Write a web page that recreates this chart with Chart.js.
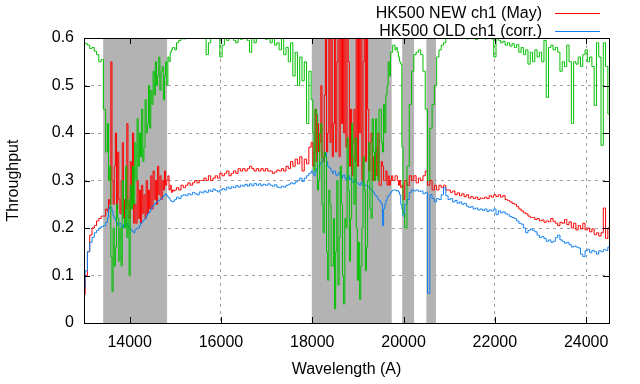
<!DOCTYPE html>
<html>
<head>
<meta charset="utf-8">
<script src="https://cdn.jsdelivr.net/npm/chart.js@4.4.0/dist/chart.umd.min.js"></script>
<style>html,body{margin:0;padding:0;background:#fff}canvas{display:block}</style>
</head>
<body>
<canvas id="chart" width="640" height="384"></canvas>
<script>
// wavelength grid (A), one row per 500 A; finer sampling inside the absorption windows
const wavelength=[
13000,13050,13100,13150,13200,13250,13300,13350,13400,13450,
13500,13525,13550,13575,13600,13625,13650,13675,13700,13725,13750,13775,13800,13825,13850,13875,13900,13925,13950,13975,
14000,14025,14050,14075,14100,14125,14150,14175,14200,14225,14250,14275,14300,14325,14350,14375,14400,14425,14450,14475,
14500,14525,14550,14575,14600,14625,14650,14675,14700,14725,14750,14775,14800,14825,14850,14875,14900,14925,14950,14975,
15000,15050,15100,15150,15200,15250,15300,15350,15400,15450,
15500,15550,15600,15650,15700,15750,15800,15850,15900,15950,
16000,16050,16100,16150,16200,16250,16300,16350,16400,16450,
16500,16550,16600,16650,16700,16750,16800,16850,16900,16950,
17000,17050,17100,17150,17200,17250,17300,17350,17400,17450,
17500,17550,17600,17650,17700,17750,17800,17850,17900,17950,
18000,18025,18050,18075,18100,18125,18150,18175,18200,18225,18250,18275,18300,18325,18350,18375,18400,18425,18450,18475,
18500,18525,18550,18575,18600,18625,18650,18675,18700,18725,18750,18775,18800,18825,18850,18875,18900,18925,18950,18975,
19000,19025,19050,19075,19100,19125,19150,19175,19200,19225,19250,19275,19300,19325,19350,19375,19400,19425,19450,19475,
19500,19525,19550,19575,19600,19625,19650,19675,19700,19725,19750,19775,19800,19825,19850,19875,19900,19925,19950,19975,
20000,20050,20100,20150,20200,20250,20300,20350,20400,20450,
20500,20550,20600,20650,20700,20750,20800,20850,20900,20950,
21000,21050,21100,21150,21200,21250,21300,21350,21400,21450,
21500,21550,21600,21650,21700,21750,21800,21850,21900,21950,
22000,22050,22100,22150,22200,22250,22300,22350,22400,22450,
22500,22550,22600,22650,22700,22750,22800,22850,22900,22950,
23000,23050,23100,23150,23200,23250,23300,23350,23400,23450,
23500,23550,23600,23650,23700,23750,23800,23850,23900,23950,
24000,24050,24100,24150,24200,24250,24300,24350,24400,24450,
24500];

// HK500 NEW ch1 (May)
const thrNew=[
0.06,0.10,0.15,0.185,0.20,0.205,0.215,0.22,0.225,0.225,
0.24,0.235,0.26,0.25,0.55,0.30,0.25,0.33,0.40,0.24,0.36,0.26,0.23,0.30,0.38,0.22,0.26,0.24,0.42,0.25,
0.22,0.34,0.26,0.40,0.21,0.25,0.21,0.30,0.22,0.28,0.21,0.29,0.23,0.27,0.22,0.30,0.23,0.28,0.24,0.31,
0.24,0.32,0.26,0.30,0.25,0.33,0.27,0.31,0.26,0.30,0.28,0.32,0.29,0.30,0.31,0.28,0.29,0.275,0.28,0.278,
0.28,0.285,0.28,0.29,0.285,0.29,0.295,0.29,0.295,0.30,
0.295,0.30,0.30,0.305,0.30,0.31,0.30,0.305,0.31,0.305,
0.315,0.31,0.315,0.32,0.31,0.315,0.32,0.315,0.325,0.32,
0.325,0.32,0.325,0.33,0.325,0.32,0.325,0.32,0.325,0.32,
0.325,0.32,0.32,0.315,0.318,0.322,0.32,0.325,0.32,0.33,
0.325,0.34,0.33,0.345,0.335,0.35,0.32,0.345,0.335,0.37,
0.38,0.33,0.36,0.45,0.34,0.42,0.36,0.38,0.50,0.35,0.34,0.48,0.62,0.36,0.40,0.65,0.38,0.65,0.35,0.42,
0.65,0.36,0.55,0.65,0.35,0.65,0.42,0.65,0.40,0.60,0.37,0.65,0.55,0.33,0.45,0.31,0.38,0.45,0.34,0.65,
0.33,0.65,0.40,0.65,0.30,0.55,0.65,0.34,0.65,0.45,0.32,0.38,0.40,0.30,0.35,0.30,0.37,0.31,0.40,0.29,
0.29,0.34,0.33,0.30,0.30,0.32,0.29,0.31,0.29,0.30,0.31,0.30,0.30,0.31,0.31,0.30,0.29,0.30,0.285,0.29,
0.26,0.30,0.29,0.31,0.30,0.31,0.295,0.305,0.30,0.31,
0.32,0.29,0.30,0.28,0.29,0.28,0.29,0.285,0.29,0.28,
0.28,0.275,0.278,0.27,0.274,0.268,0.272,0.266,0.27,0.263,
0.266,0.262,0.265,0.26,0.263,0.262,0.265,0.262,0.268,0.265,
0.27,0.266,0.27,0.265,0.268,0.26,0.258,0.255,0.252,0.25,
0.245,0.24,0.236,0.232,0.23,0.225,0.222,0.222,0.218,0.22,
0.215,0.217,0.212,0.215,0.213,0.22,0.214,0.21,0.205,0.212,
0.21,0.218,0.207,0.213,0.20,0.21,0.196,0.205,0.198,0.21,
0.196,0.20,0.192,0.198,0.186,0.19,0.183,0.19,0.242,0.178,
0.2];

// HK500 OLD ch1 (corr.)
const thrOld=[
0.075,0.11,0.15,0.17,0.18,0.19,0.195,0.20,0.203,0.205,
0.212,0.222,0.24,0.246,0.243,0.235,0.225,0.22,0.215,0.212,0.205,0.21,0.21,0.203,0.20,0.207,0.205,0.208,0.21,0.204,
0.20,0.198,0.195,0.192,0.19,0.196,0.198,0.20,0.20,0.205,0.21,0.212,0.215,0.218,0.22,0.225,0.23,0.232,0.235,0.24,
0.245,0.248,0.25,0.253,0.255,0.257,0.258,0.26,0.262,0.265,0.268,0.27,0.272,0.268,0.265,0.262,0.258,0.256,0.255,0.257,
0.26,0.265,0.262,0.268,0.27,0.268,0.272,0.27,0.275,0.272,
0.27,0.276,0.274,0.278,0.275,0.28,0.277,0.282,0.279,0.276,
0.28,0.283,0.28,0.286,0.283,0.287,0.285,0.289,0.286,0.29,
0.288,0.292,0.288,0.293,0.289,0.294,0.29,0.293,0.289,0.292,
0.29,0.293,0.29,0.288,0.291,0.286,0.285,0.288,0.286,0.29,
0.292,0.295,0.293,0.297,0.30,0.305,0.298,0.305,0.31,0.315,
0.32,0.315,0.31,0.318,0.325,0.33,0.33,0.335,0.338,0.34,0.345,0.35,0.358,0.34,0.33,0.328,0.325,0.32,0.315,0.32,
0.32,0.312,0.31,0.315,0.318,0.31,0.305,0.31,0.312,0.305,0.30,0.308,0.31,0.302,0.305,0.298,0.296,0.302,0.302,0.295,
0.295,0.292,0.29,0.295,0.298,0.29,0.288,0.29,0.29,0.287,0.285,0.282,0.28,0.278,0.275,0.27,0.268,0.265,0.26,0.258,
0.255,0.25,0.205,0.24,0.25,0.258,0.265,0.268,0.27,0.275,0.278,0.28,0.28,0.28,0.278,0.279,0.276,0.27,0.25,0.24,
0.225,0.25,0.26,0.275,0.28,0.278,0.28,0.277,0.278,0.272,
0.275,0.062,0.27,0.262,0.255,0.262,0.26,0.27,0.285,0.268,
0.26,0.262,0.255,0.258,0.252,0.255,0.25,0.252,0.246,0.243,
0.245,0.24,0.242,0.238,0.24,0.237,0.24,0.235,0.238,0.236,
0.24,0.228,0.236,0.232,0.234,0.23,0.228,0.224,0.222,0.22,
0.215,0.21,0.208,0.20,0.19,0.195,0.198,0.195,0.192,0.185,
0.18,0.182,0.178,0.172,0.175,0.17,0.172,0.18,0.185,0.175,
0.172,0.168,0.17,0.165,0.16,0.162,0.16,0.158,0.145,0.14,
0.152,0.155,0.148,0.153,0.15,0.145,0.152,0.15,0.155,0.153,
0.16];

// atmospheric transmission (green, no key entry)
const atmTrans=[
0.59,0.588,0.585,0.578,0.58,0.572,0.565,0.55,0.555,0.45,
0.36,0.42,0.30,0.33,0.14,0.066,0.20,0.12,0.16,0.25,0.22,0.13,0.20,0.12,0.30,0.22,0.20,0.33,0.18,0.26,
0.10,0.29,0.24,0.33,0.25,0.38,0.30,0.43,0.33,0.40,0.35,0.45,0.34,0.37,0.47,0.40,0.42,0.50,0.41,0.49,
0.46,0.53,0.48,0.55,0.50,0.52,0.56,0.49,0.53,0.54,0.47,0.52,0.55,0.50,0.56,0.55,0.57,0.575,0.58,0.58,
0.575,0.59,0.595,0.60,0.598,0.605,0.60,0.61,0.61,0.60,
0.61,0.605,0.60,0.61,0.565,0.59,0.605,0.61,0.61,0.60,
0.56,0.585,0.60,0.595,0.61,0.60,0.595,0.59,0.60,0.597,
0.61,0.60,0.595,0.57,0.60,0.59,0.60,0.605,0.60,0.60,
0.597,0.60,0.59,0.60,0.585,0.59,0.575,0.60,0.565,0.58,
0.55,0.59,0.52,0.57,0.50,0.56,0.51,0.55,0.42,0.53,
0.47,0.40,0.32,0.45,0.44,0.28,0.30,0.40,0.42,0.25,0.19,0.36,0.35,0.15,0.09,0.28,0.25,0.12,0.12,0.22,
0.03,0.15,0.30,0.08,0.18,0.33,0.25,0.10,0.04,0.22,0.20,0.39,0.28,0.13,0.22,0.42,0.35,0.25,0.39,0.20,
0.09,0.17,0.05,0.12,0.20,0.35,0.28,0.11,0.16,0.30,0.38,0.24,0.22,0.43,0.36,0.30,0.43,0.36,0.30,0.45,
0.45,0.38,0.36,0.46,0.40,0.48,0.50,0.55,0.52,0.57,0.57,0.585,0.585,0.575,0.58,0.57,0.56,0.55,0.545,0.37,
0.23,0.20,0.33,0.46,0.53,0.565,0.57,0.575,0.565,0.53,
0.45,0.30,0.41,0.46,0.50,0.56,0.575,0.585,0.59,0.60,
0.61,0.60,0.605,0.61,0.60,0.61,0.60,0.605,0.598,0.61,
0.60,0.605,0.597,0.60,0.61,0.60,0.598,0.605,0.60,0.598,
0.56,0.60,0.595,0.59,0.593,0.585,0.59,0.583,0.588,0.58,
0.586,0.57,0.58,0.565,0.575,0.545,0.57,0.55,0.575,0.56,
0.57,0.55,0.595,0.475,0.58,0.585,0.575,0.58,0.57,0.53,
0.55,0.54,0.585,0.55,0.42,0.55,0.545,0.56,0.54,0.565,
0.575,0.55,0.56,0.54,0.458,0.59,0.56,0.374,0.59,0.54,
0.44];

// shaded absorption windows [from, to] in A
const absBands=[[13420,14820],[17990,19740],[19970,20230],[20500,20710]];
const xTicks=[14000,16000,18000,20000,22000,24000];
const yTicks=[0,0.1,0.2,0.3,0.4,0.5,0.6];
const seriesNames=['HK500 NEW ch1 (May)','HK500 OLD ch1 (corr.)'];
const seriesColors=['#ff0000','#1080f0','#00c000'];

const FONT='"Liberation Sans", Arial, sans-serif';
const toPts=vals=>wavelength.map((w,i)=>({x:w,y:vals[i]}));

const bandPlugin={
  id:'bands',
  beforeDatasetsDraw(chart){
    const {ctx,chartArea:a,scales:{x}}=chart;
    ctx.save();
    ctx.fillStyle='#b3b3b3';
    absBands.forEach(([s,e])=>{
      const x0=x.getPixelForValue(s),x1=x.getPixelForValue(e);
      ctx.fillRect(x0,a.top,x1-x0,a.bottom-a.top);
    });
    ctx.restore();
  }
};

// gnuplot style border with inward ticks
const framePlugin={
  id:'frame',
  afterDatasetsDraw(chart){
    const {ctx,chartArea:a,scales:{x,y}}=chart;
    ctx.save();
    ctx.setLineDash([]);
    ctx.strokeStyle='#000';ctx.lineWidth=1;
    ctx.strokeRect(a.left+0.5,a.top+0.5,a.right-a.left,a.bottom-a.top);
    ctx.beginPath();
    xTicks.forEach(v=>{
      const px=Math.round(x.getPixelForValue(v))+0.5;
      ctx.moveTo(px,a.bottom);ctx.lineTo(px,a.bottom-6);
      ctx.moveTo(px,a.top);ctx.lineTo(px,a.top+6);
    });
    yTicks.forEach(v=>{
      const py=Math.round(y.getPixelForValue(v))+0.5;
      ctx.moveTo(a.left,py);ctx.lineTo(a.left+6,py);
      ctx.moveTo(a.right,py);ctx.lineTo(a.right-6,py);
    });
    ctx.stroke();
    ctx.restore();
  }
};

// key at top right: text then line sample
const keyPlugin={
  id:'key',
  afterDraw(chart){
    const {ctx}=chart;
    ctx.save();
    ctx.setLineDash([]);
    ctx.font='16px '+FONT;
    ctx.textAlign='right';ctx.textBaseline='alphabetic';
    seriesNames.forEach((name,i)=>{
      const base=17.5+i*18.7;
      const ly=Math.round(base-5)+0.5;
      ctx.fillStyle='#000';
      ctx.fillText(name,542,base);
      ctx.strokeStyle=seriesColors[i];ctx.lineWidth=1;
      ctx.beginPath();ctx.moveTo(555,ly);ctx.lineTo(600,ly);ctx.stroke();
    });
    ctx.restore();
  }
};

const common={borderWidth:1,pointRadius:0,stepped:'middle',fill:false,tension:0};

new Chart(document.getElementById('chart'),{
  type:'line',
  data:{datasets:[
    {...common,label:seriesNames[0],data:toPts(thrNew),borderColor:seriesColors[0],order:3},
    {...common,label:seriesNames[1],data:toPts(thrOld),borderColor:seriesColors[1],order:2},
    {...common,label:'',data:toPts(atmTrans),borderColor:seriesColors[2],order:1}
  ]},
  options:{
    responsive:false,animation:false,
    layout:{padding:{top:38,right:31,left:0,bottom:0}},
    plugins:{legend:{display:false},tooltip:{enabled:false}},
    scales:{
      x:{
        type:'linear',min:13000,max:24500,
        afterBuildTicks:s=>{s.ticks=xTicks.map(v=>({value:v}))},
        afterFit:s=>{s.height=61},
        ticks:{callback:v=>String(v),color:'#000',font:{family:FONT,size:16},padding:10,maxRotation:0,autoSkip:false},
        grid:{color:'#a0a0a0',drawTicks:false,lineWidth:1},
        border:{display:false,dash:[3,4]},
        title:{display:true,text:'Wavelength (A)',color:'#000',font:{family:FONT,size:16},padding:{top:0,bottom:5}}
      },
      y:{
        min:0,max:0.6,
        afterBuildTicks:s=>{s.ticks=yTicks.map(v=>({value:v}))},
        afterFit:s=>{s.width=84},
        ticks:{callback:v=>String(v),color:'#000',font:{family:FONT,size:16},padding:10,autoSkip:false},
        grid:{color:'#a0a0a0',drawTicks:false,lineWidth:1},
        border:{display:false,dash:[3,4]},
        title:{display:true,text:'Throughput',color:'#000',font:{family:FONT,size:16},padding:{top:4,bottom:0}}
      }
    }
  },
  plugins:[bandPlugin,framePlugin,keyPlugin]
});
</script>
</body>
</html>
